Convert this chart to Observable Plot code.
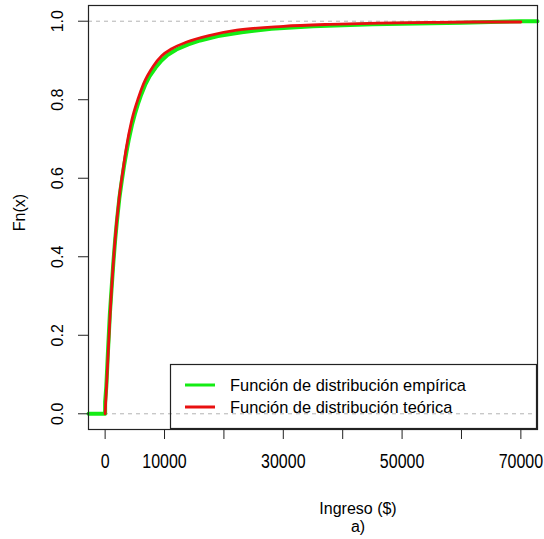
<!DOCTYPE html>
<html><head><meta charset="utf-8">
<script src="https://cdn.jsdelivr.net/npm/d3@7"></script>
<script src="https://cdn.jsdelivr.net/npm/@observablehq/plot@0.6"></script>
<style>
body{margin:0;background:#fff;}
#wrap{position:relative;width:544px;height:539px;font-family:"Liberation Sans",Arial,sans-serif;}
#wrap svg{position:absolute;left:0;top:0;}
</style></head><body><div id="wrap"></div>
<script>
// Theoretical CDF
const theoX = [0, 280, 840, 1570, 2410, 3000, 3540, 4490, 5610, 6450, 8130, 9540, 11220, 13750, 17680, 22170, 30000, 37880, 46000, 54700, 62000, 70000];
const theoF = [0, 0.084, 0.254, 0.424, 0.556, 0.620, 0.675, 0.748, 0.805, 0.840, 0.886, 0.912, 0.930, 0.947, 0.964, 0.977, 0.987, 0.992, 0.995, 0.997, 0.998, 0.998];
const empX = [0, 200, 500, 800, 1100, 1400, 1700, 2000, 2400, 2800, 3200, 3600, 4000, 4500, 5000, 5500, 6000, 6800, 7500, 8500, 9500, 10500, 12000, 14000, 16000, 19000, 23000, 28000, 35000, 45000, 60000, 70000];
const empF = [0.03, 0.07, 0.165, 0.255, 0.322, 0.388, 0.445, 0.493, 0.55, 0.593, 0.633, 0.668, 0.70, 0.735, 0.763, 0.788, 0.81, 0.84, 0.86, 0.882, 0.90, 0.914, 0.928, 0.941, 0.951, 0.962, 0.972, 0.981, 0.987, 0.992, 0.996, 1.0];

const xTicks = [0, 10000, 20000, 30000, 40000, 50000, 60000, 70000];
const xTickLabels = ["0", "10000", "", "30000", "", "50000", "", "70000"];
const yTicks = [0, 0.2, 0.4, 0.6, 0.8, 1.0];
const yTickLabels = ["0.0", "0.2", "0.4", "0.6", "0.8", "1.0"];
const refLines = [0, 1];
const legendLabels = ["Función de distribución empírica", "Función de distribución teórica"];
const colors = ["#14ec14", "#e81010"];
const xLabel = "Ingreso ($)";
const subLabel = "a)";
const yLabel = "Fn(x)";

const xmin = d3.min(empX), xmax = d3.max(empX), pad = 0.04 * (xmax - xmin);
const xDomain = [xmin - pad, xmax + pad];
const yDomain = [-0.04, 1.04];

// ECDF is 0 left of the sample minimum and stays at its last value to the right
const emp = [{x: xDomain[0], F: 0}, {x: xmin, F: 0}, ...empX.map((x, i) => ({x, F: empF[i]})), {x: xDomain[1], F: empF[empF.length - 1]}];
const theo = theoX.map((x, i) => ({x, F: theoF[i]}));

const font = '"Liberation Sans", Arial, sans-serif';
const chart = Plot.plot({
  width: 544, height: 539,
  marginLeft: 88, marginRight: 7, marginTop: 5, marginBottom: 110,
  x: {domain: xDomain},
  y: {domain: yDomain},
  style: {fontFamily: font, fontSize: "16px", background: "white", color: "black"},
  marks: [
    Plot.ruleY(refLines, {stroke: "#b3b3b3", strokeDasharray: "4,4", strokeWidth: 1}),
    Plot.line(emp, {x: "x", y: "F", curve: "linear", stroke: colors[0], strokeWidth: 4}),
    Plot.line(theo, {x: "x", y: "F", curve: "monotone-x", stroke: colors[1], strokeWidth: 2.8}),
    Plot.frame({stroke: "#222", strokeWidth: 1.2}),
    Plot.axisX({ticks: xTicks, tickSize: 10, tickPadding: 15, fontSize: 16, label: null, stroke: "#222",
      tickFormat: d => xTickLabels[xTicks.indexOf(d)]}),
    Plot.axisY({ticks: yTicks, tickSize: 10, label: null, stroke: "#222", tickFormat: () => ""}),
    Plot.text(yTicks, {y: d => d, text: (d, i) => yTickLabels[i], frameAnchor: "left", dx: -30.5, rotate: -90,
      textAnchor: "middle", lineAnchor: "middle", fontSize: 16, ariaLabel: "ytl"}),
    Plot.text([yLabel], {text: d => d, frameAnchor: "left", dx: -69, dy: -5, rotate: -90, fontSize: 16,
      textAnchor: "middle", lineAnchor: "middle"}),
    Plot.text([xLabel + "\n" + subLabel], {text: d => d, frameAnchor: "bottom", dx: 45, dy: 72,
      lineAnchor: "top", fontSize: 16, lineHeight: 1.1})
  ]
});
document.getElementById("wrap").appendChild(chart);

// vertical stretch of tick labels as in the reference
d3.select(chart).selectAll('g[aria-label="x-axis tick label"] text').each(function() {
  const t = d3.select(this).attr("transform") || "";
  d3.select(this).attr("transform", t + " scale(1,1.22)");
});
d3.select(chart).selectAll('g[aria-label="ytl"] text').each(function() {
  const t = d3.select(this).attr("transform") || "";
  d3.select(this).attr("transform", t + " scale(1.22,1)");
});

// legend (bottom-right, transparent box)
const lg = d3.select("#wrap").append("svg").attr("width", 544).attr("height", 539)
  .style("pointer-events", "none").attr("font-family", font).attr("font-size", 16.4);
lg.append("rect").attr("x", 170.5).attr("y", 364.5).attr("width", 366).attr("height", 64)
  .attr("fill", "none").attr("stroke", "#222").attr("stroke-width", 1.2);
legendLabels.forEach((lab, i) => {
  const y = 385 + 22 * i;
  lg.append("line").attr("x1", 185).attr("x2", 215).attr("y1", y).attr("y2", y)
    .attr("stroke", colors[i]).attr("stroke-width", 3);
  lg.append("text").attr("x", 230).attr("y", y).attr("dy", "0.35em").text(lab);
});
</script></body></html>
